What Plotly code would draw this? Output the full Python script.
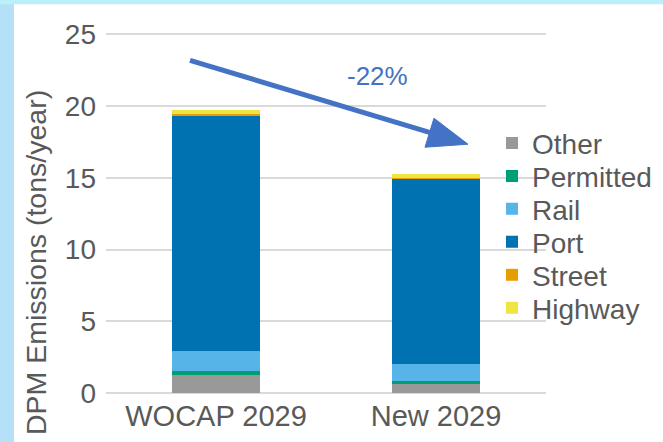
import plotly.graph_objects as go

categories = ["WOCAP 2029", "New 2029"]
series_names = ["Other", "Permitted", "Rail", "Port", "Street", "Highway"]
other = [1.28, 0.65]
permitted = [0.25, 0.19]
rail = [1.40, 1.16]
port = [16.44, 12.93]
street = [0.05, 0.05]
highway = [0.30, 0.30]
y_ticks = [0, 5, 10, 15, 20, 25]
change_label = "-22%"
y_title = "DPM Emissions (tons/year)"

colors = ["#999999", "#009E73", "#56B4E9", "#0072B2", "#E69F00", "#F0E442"]
series_values = [other, permitted, rail, port, street, highway]

W, H = 663, 442
YMAX = 25.3
L, R, B = 106, 117, 49
PH = 359 * YMAX / 25
T = H - B - PH
PW = W - L - R

def px(x):
    return (x - L) / PW

def py(y):
    return (H - B - y) / PH

fig = go.Figure()
legend_names = ["legend"] + [f"legend{i}" for i in range(2, 7)]
for i, (name, vals, col) in enumerate(zip(series_names, series_values, colors)):
    fig.add_trace(go.Bar(x=categories, y=vals, name=name, legend=legend_names[i],
                         marker=dict(color=col, line=dict(width=0))))

font_fam = "Liberation Sans, Arial, sans-serif"
legend_y0 = 143
legend_step = 33
leg_layout = {}
for i, ln in enumerate(legend_names):
    leg_layout[ln] = dict(x=px(492), y=py(legend_y0 + i * legend_step), xanchor="left",
                          yanchor="middle", bgcolor="rgba(0,0,0,0)",
                          font=dict(size=28, color="#595959"))

fig.update_layout(
    width=W, height=H,
    barmode="stack", bargap=0.6,
    paper_bgcolor="white", plot_bgcolor="white",
    margin=dict(l=L, r=R, t=T, b=B, autoexpand=False),
    font=dict(family=font_fam, color="#595959"),
    xaxis=dict(tickfont=dict(size=29, color="#595959"), showgrid=False, showline=False,
               ticks="", ticklabelstandoff=3),
    yaxis=dict(range=[0, YMAX], tickvals=y_ticks, tickfont=dict(size=28, color="#595959"),
               showgrid=True, gridcolor="#D9D9D9", gridwidth=1.5, zeroline=True,
               zerolinecolor="#D9D9D9", zerolinewidth=1.5, ticks="", ticklabelstandoff=9),
    showlegend=True,
    **leg_layout,
)

# light blue frame (left and top)
fig.add_shape(type="rect", xref="paper", yref="paper", x0=px(-2), x1=px(14), y0=py(H + 2), y1=py(-2),
              fillcolor="#B5E1F8", line=dict(width=0), layer="below")
fig.add_shape(type="rect", xref="paper", yref="paper", x0=px(-2), x1=px(W + 2), y0=py(4), y1=py(-2),
              fillcolor="#BDEFFB", line=dict(width=0), layer="below")

# arrow
arrow_col = "#4472C4"
fig.add_shape(type="line", xref="paper", yref="paper", x0=px(190), y0=py(60), x1=px(432), y1=py(133),
              line=dict(color=arrow_col, width=5))
head = [(434, 118), (468, 144), (425, 147)]
path = "M " + " L ".join(f"{px(a):.5f},{py(b):.5f}" for a, b in head) + " Z"
fig.add_shape(type="path", xref="paper", yref="paper", path=path, fillcolor=arrow_col,
              line=dict(color=arrow_col, width=1))

fig.add_annotation(text=change_label, xref="paper", yref="paper", x=px(377), y=py(76),
                   xanchor="center", yanchor="middle",
                   showarrow=False, font=dict(size=26, color=arrow_col))

fig.add_annotation(text=y_title, xref="paper", yref="paper", x=px(36), y=py(263),
                   xanchor="center", yanchor="middle",
                   textangle=-90, showarrow=False, font=dict(size=28.5, color="#595959"))

fig.write_html("out.html", config={"displayModeBar": False},
               post_script="document.body.style.margin='0px';")
